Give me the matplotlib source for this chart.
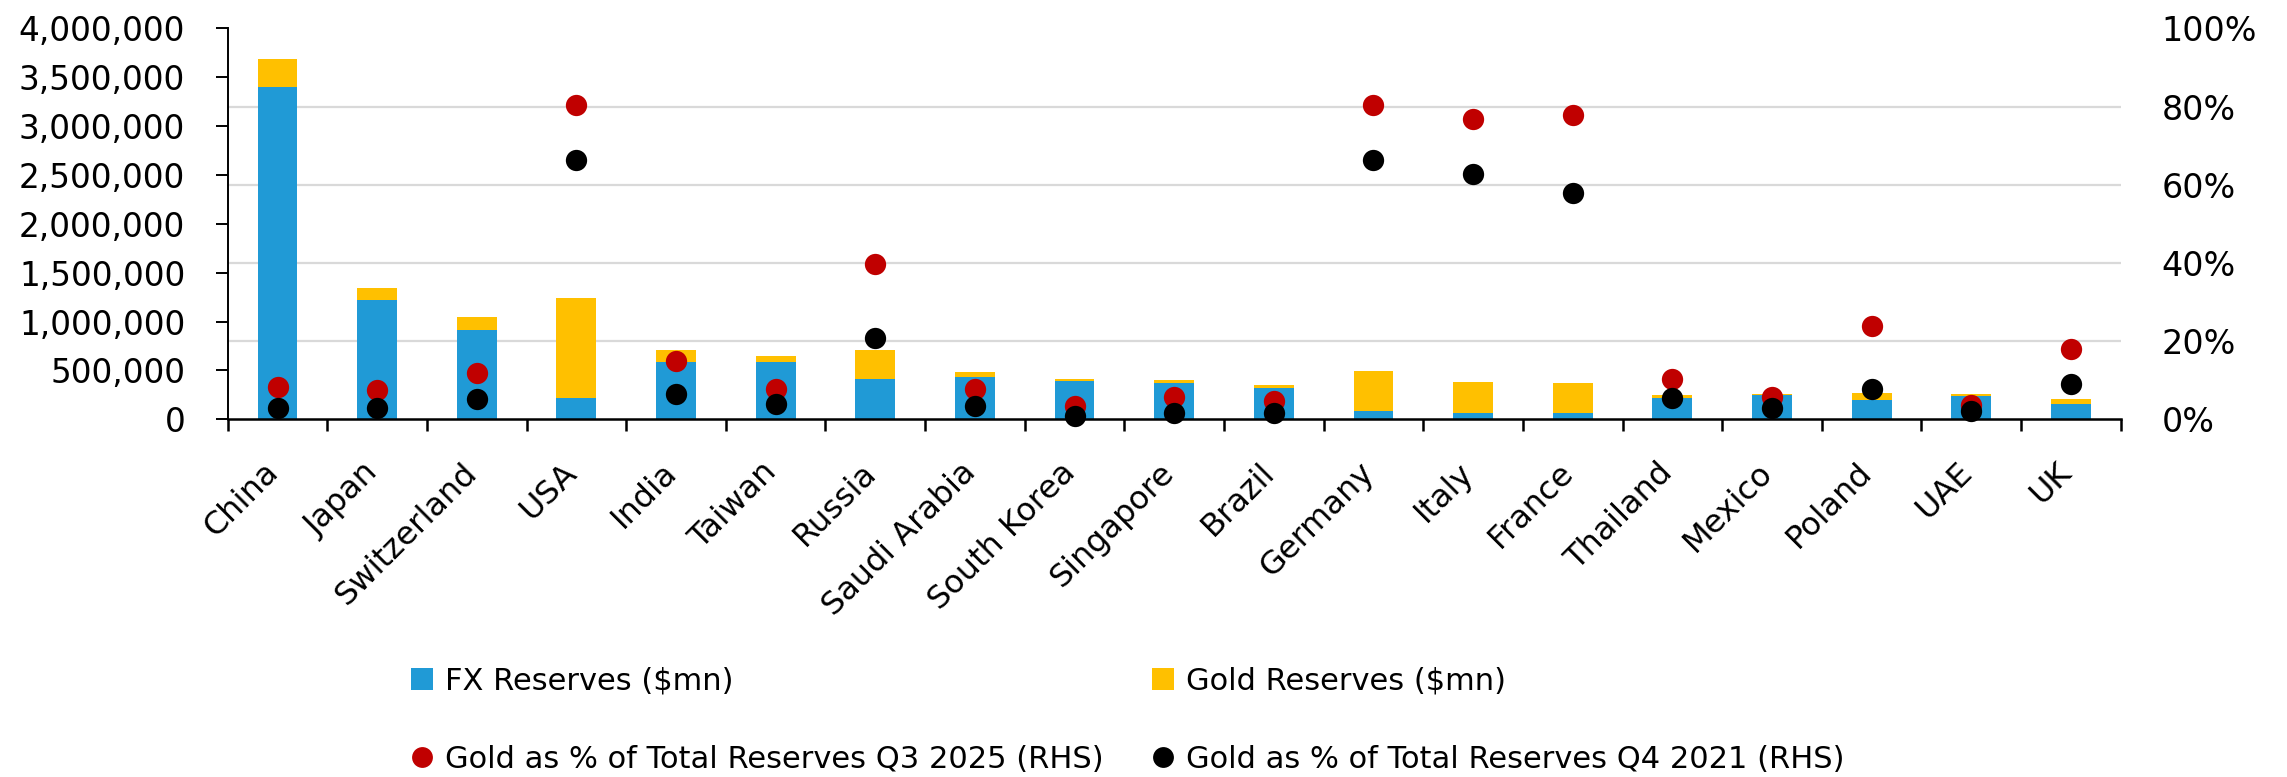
import matplotlib
matplotlib.use("Agg")
import matplotlib.pyplot as plt
import matplotlib.transforms as mtransforms
from matplotlib.lines import Line2D
from matplotlib.ticker import MultipleLocator, FuncFormatter, FixedLocator, NullFormatter
import numpy as np

plt.rcParams["font.family"] = ["DejaVu Sans"]

# Central bank reserves by country
countries = ["China", "Japan", "Switzerland", "USA", "India", "Taiwan", "Russia",
             "Saudi Arabia", "South Korea", "Singapore", "Brazil", "Germany", "Italy",
             "France", "Thailand", "Mexico", "Poland", "UAE", "UK"]

# $mn
fx_reserves = [3400000, 1222000, 910000, 223000, 587000, 584000, 412000, 429000,
               395000, 371000, 319000, 86000, 69000, 69000, 223000, 245000, 197000,
               238000, 153000]
gold_reserves = [290000, 117000, 137000, 1013000, 117000, 61000, 292000, 52000,
                 17000, 27000, 28000, 412000, 312000, 302000, 28000, 17000, 69000,
                 18000, 52000]

# Gold as share of total reserves (fraction)
gold_share_q3_2025 = [0.082, 0.074, 0.118, 0.803, 0.148, 0.077, 0.397, 0.077, 0.034,
                      0.057, 0.048, 0.803, 0.769, 0.778, 0.103, 0.058, 0.239, 0.037,
                      0.180]
gold_share_q4_2021 = [0.030, 0.030, 0.052, 0.662, 0.064, 0.039, 0.209, 0.034, 0.009,
                      0.017, 0.017, 0.662, 0.627, 0.579, 0.054, 0.028, 0.077, 0.022,
                      0.090]

BLUE = "#209AD6"
GOLD = "#FFC000"
RED = "#C00000"
BLACK = "#000000"
GRID = "#D9D9D9"

W, H = 2287, 777
fig = plt.figure(figsize=(W / 100, H / 100), dpi=100)
ax = fig.add_axes([227.7 / W, 1 - 419.3 / H, 1893 / W, 391 / H])

n = len(countries)
x = np.arange(n)
ax.bar(x, fx_reserves, width=0.4, color=BLUE, zorder=2, linewidth=0)
ax.bar(x, gold_reserves, bottom=fx_reserves, width=0.4, color=GOLD, zorder=2, linewidth=0)

ax.set_xlim(-0.5, n - 0.5)
ax.set_ylim(0, 4000000)

# Left axis: labels every 500k, gridlines every 20% of the right axis
ax.yaxis.set_major_locator(MultipleLocator(500000))
ax.yaxis.set_minor_locator(MultipleLocator(800000))
ax.yaxis.set_major_formatter(FuncFormatter(lambda v, p: f"{v:,.0f}"))
ax.grid(axis="y", which="minor", color=GRID, linewidth=1.6)
ax.grid(axis="y", which="major", visible=False)
ax.set_axisbelow(True)
ax.tick_params(axis="y", which="major", direction="out", length=8.6, width=1.4,
               pad=22, labelsize=23.5, colors="black")
ax.tick_params(axis="y", which="minor", length=0)

# Category boundaries carry the tick marks, names sit at bar centres
ax.xaxis.set_major_locator(FixedLocator(np.arange(-0.5, n, 1.0)))
ax.xaxis.set_major_formatter(NullFormatter())
ax.set_xticks(x, minor=True)
ax.set_xticklabels(countries, minor=True, rotation=45, ha="right", fontsize=23)
ax.tick_params(axis="x", which="major", direction="out", length=8.6, width=1.8)
ax.tick_params(axis="x", which="minor", length=0, pad=27)
shift = mtransforms.ScaledTranslation(7 / 100, 0, fig.dpi_scale_trans)
for lbl in ax.get_xticklabels(minor=True):
    lbl.set_transform(lbl.get_transform() + shift)

for side in ("top", "right"):
    ax.spines[side].set_visible(False)
ax.spines["left"].set_linewidth(1.4)
ax.spines["bottom"].set_linewidth(1.8)

# Right axis: gold share
ax2 = ax.twinx()
ax2.set_ylim(0, 1)
ax2.yaxis.set_major_locator(MultipleLocator(0.2))
ax2.yaxis.set_major_formatter(FuncFormatter(lambda v, p: f"{v * 100:.0f}%"))
ax2.tick_params(axis="y", length=0, pad=29.5, labelsize=24)
for s in ax2.spines.values():
    s.set_visible(False)

ax2.scatter(x, gold_share_q3_2025, s=235, color=RED, linewidths=0, zorder=3, clip_on=False)
ax2.scatter(x, gold_share_q4_2021, s=235, color=BLACK, linewidths=0, zorder=4, clip_on=False)

handles = [
    Line2D([], [], marker="s", linestyle="", color=BLUE, markersize=16.5, markeredgewidth=0),
    Line2D([], [], marker="o", linestyle="", color=RED, markersize=15, markeredgewidth=0),
    Line2D([], [], marker="s", linestyle="", color=GOLD, markersize=16.5, markeredgewidth=0),
    Line2D([], [], marker="o", linestyle="", color=BLACK, markersize=15, markeredgewidth=0),
]
labels = ["FX Reserves ($mn)", "Gold as % of Total Reserves Q3 2025 (RHS)",
          "Gold Reserves ($mn)", "Gold as % of Total Reserves Q4 2021 (RHS)"]
fig.legend(handles, labels, ncol=2, loc="upper left",
           bbox_to_anchor=(410 / W, 1 - 667 / H), frameon=False, fontsize=22,
           handlelength=0.8, handletextpad=0.35, columnspacing=1.53,
           labelspacing=1.59, borderpad=0, borderaxespad=0)

fig.savefig("out.png", dpi=100, facecolor="white")
